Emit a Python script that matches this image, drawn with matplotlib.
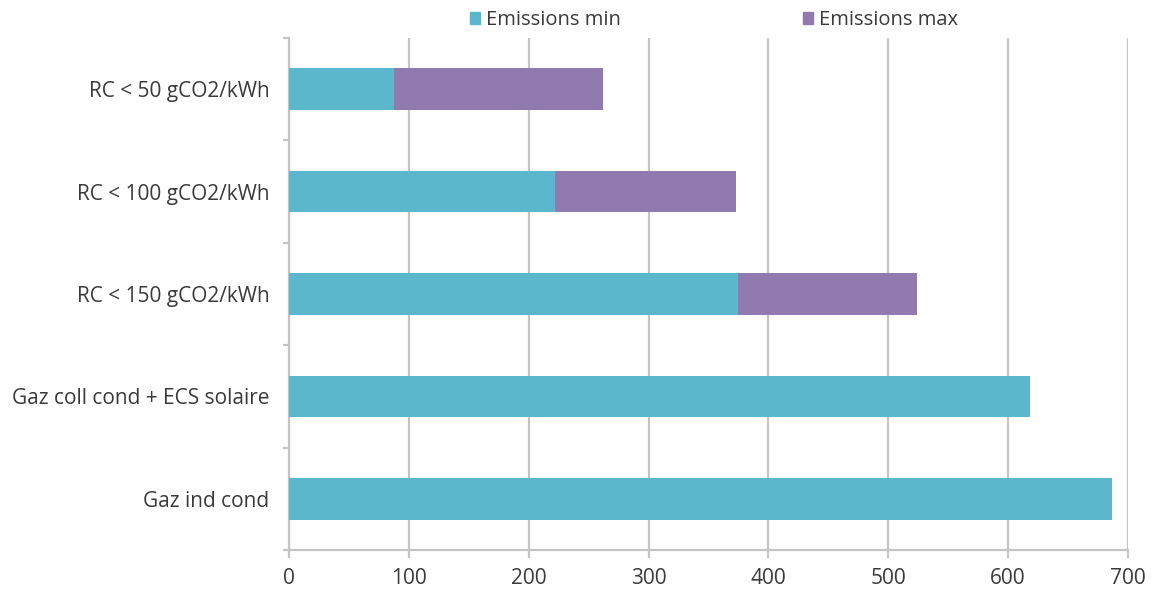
import matplotlib
matplotlib.use("Agg")
import matplotlib.pyplot as plt
from matplotlib.patches import Patch
import numpy as np

categories = [
    "RC < 50 gCO2/kWh",
    "RC < 100 gCO2/kWh",
    "RC < 150 gCO2/kWh",
    "Gaz coll cond + ECS solaire",
    "Gaz ind cond",
]
emissions_min = [88, 222, 375, 618, 687]
emissions_max = [262, 373, 524, 618, 687]
x_ticks = [0, 100, 200, 300, 400, 500, 600, 700]

color_min = "#5AB7CC"
color_max = "#907AAF"
grid_color = "#C4C4C4"
text_color = "#3A3A3A"

plt.rcParams["font.family"] = ["Open Sans", "DejaVu Sans"]

fig = plt.figure(figsize=(11.52, 5.89), dpi=100)
ax = fig.add_axes([289 / 1152, 1 - 550 / 589, (1128 - 289) / 1152, (550 - 38) / 589])

y = np.arange(len(categories))
extra = [mx - mn for mn, mx in zip(emissions_min, emissions_max)]
ax.barh(y, emissions_min, height=0.405, color=color_min, zorder=3)
ax.barh(y, extra, left=emissions_min, height=0.405, color=color_max, zorder=3)

ax.set_xlim(0, 700)
ax.set_ylim(len(categories) - 0.5, -0.5)
ax.set_xticks(x_ticks)
ax.set_xticklabels([str(v) for v in x_ticks], fontsize=15, color=text_color)
ax.set_yticks(y)
ax.set_yticklabels(categories, fontsize=15, color=text_color)
ax.set_yticks(np.arange(-0.5, len(categories), 1.0), minor=True)

ax.grid(axis="x", color=grid_color, linewidth=1.6, zorder=0)
for s in ["top", "right"]:
    ax.spines[s].set_visible(False)
for s in ["left", "bottom"]:
    ax.spines[s].set_color(grid_color)
    ax.spines[s].set_linewidth(1.6)

ax.tick_params(axis="x", direction="out", length=6, width=1.6, color=grid_color, pad=7)
ax.tick_params(axis="y", which="major", length=0, pad=14)
ax.tick_params(axis="y", which="minor", direction="out", length=4, width=1.6, color=grid_color)

handles = [Patch(color=color_min), Patch(color=color_max)]
fig.legend(handles, ["Emissions min", "Emissions max"], loc="center",
           bbox_to_anchor=(714 / 1152, 1 - 20 / 589), ncol=2, frameon=False,
           fontsize=14.5, handlelength=0.5, handleheight=0.5, handletextpad=0.3,
           columnspacing=9, labelcolor=text_color)

fig.savefig("out.png", dpi=100, facecolor="white")
